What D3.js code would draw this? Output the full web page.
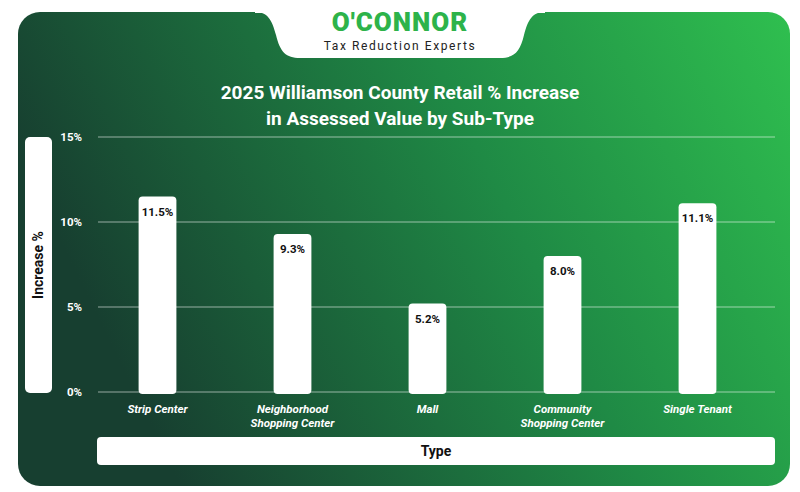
<!DOCTYPE html>
<html><head><meta charset="utf-8">
<script src="https://cdn.jsdelivr.net/npm/d3@7"></script>
<style>body{margin:0;background:#fff}svg{display:block;font-family:Roboto,"Open Sans",sans-serif}</style>
</head><body><svg id="c" width="800" height="492"></svg>
<script>
var categories = [["Strip Center"], ["Neighborhood", "Shopping Center"], ["Mall"], ["Community", "Shopping Center"], ["Single Tenant"]];
var values = [11.5, 9.3, 5.2, 8.0, 11.1];
var yTicks = [0, 5, 10, 15];

var svg = d3.select("#c");
var defs = svg.append("defs");
var g = defs.append("linearGradient").attr("id", "bg").attr("x1", "0").attr("y1", "0.3").attr("x2", "1").attr("y2", "0");
g.append("stop").attr("offset", "0").attr("stop-color", "#173f30");
g.append("stop").attr("offset", "0.55").attr("stop-color", "#1f8a45");
g.append("stop").attr("offset", "1").attr("stop-color", "#2fbf4f");

svg.append("rect").attr("x", 18).attr("y", 12).attr("width", 772).attr("height", 474).attr("rx", 22).attr("fill", "url(#bg)");

// logo tab
svg.append("path").attr("d", "M255,12 C268,12 272,20 276,35 C280,52 286,58 300,58 L500,58 C514,58 520,52 524,35 C528,20 532,12 545,12 Z").attr("fill", "#fff");
svg.append("rect").attr("x", 255).attr("y", 0).attr("width", 290).attr("height", 13).attr("fill", "#fff");
svg.append("text").attr("x", 400).attr("y", 31).attr("text-anchor", "middle").attr("font-size", 26).attr("font-weight", 900)
  .attr("fill", "#2db34a").attr("letter-spacing", 1).text("O'CONNOR");
svg.append("text").attr("x", 400).attr("y", 50).attr("text-anchor", "middle").attr("font-size", 12)
  .attr("fill", "#222").attr("letter-spacing", 1.6).text("Tax Reduction Experts");

svg.append("text").attr("x", 400).attr("y", 99).attr("text-anchor", "middle").attr("font-size", 19).attr("font-weight", 700).attr("fill", "#fff").text("2025 Williamson County Retail % Increase");
svg.append("text").attr("x", 400).attr("y", 125).attr("text-anchor", "middle").attr("font-size", 19).attr("font-weight", 700).attr("fill", "#fff").text("in Assessed Value by Sub-Type");

var x = d3.scaleBand().domain(d3.range(values.length)).range([90, 765]).paddingInner(0.72).paddingOuter(0.36);
var y = d3.scaleLinear().domain([0, 15]).range([392, 137]);

svg.append("g").selectAll("line").data(yTicks).join("line")
  .attr("x1", 98).attr("x2", 775).attr("y1", d => y(d)).attr("y2", d => y(d))
  .attr("stroke", "rgba(255,255,255,0.55)").attr("stroke-width", 1);
svg.append("g").selectAll("text").data(yTicks).join("text")
  .attr("x", 82).attr("y", d => y(d) + 4).attr("text-anchor", "end").attr("font-size", 11.5).attr("font-weight", 700)
  .attr("fill", "#fff").text(d => d + "%");

svg.append("rect").attr("x", 25).attr("y", 137).attr("width", 27).attr("height", 256).attr("rx", 5).attr("fill", "#fff");
svg.append("text").attr("transform", "translate(43,265) rotate(-90)").attr("text-anchor", "middle").attr("font-size", 14).attr("font-weight", 700).attr("fill", "#111").text("Increase %");

svg.append("g").selectAll("rect").data(values).join("rect")
  .attr("x", (d, i) => x(i)).attr("width", x.bandwidth()).attr("y", d => y(d)).attr("height", d => y(0) - y(d) + 2)
  .attr("rx", 4).attr("fill", "#fff");
svg.append("g").selectAll("text").data(values).join("text")
  .attr("x", (d, i) => x(i) + x.bandwidth() / 2).attr("y", d => y(d) + 19).attr("text-anchor", "middle")
  .attr("font-size", 11.5).attr("font-weight", 700).attr("fill", "#111").text(d => d.toFixed(1) + "%");

var xl = svg.append("g").selectAll("text").data(categories).join("text")
  .attr("x", (d, i) => x(i) + x.bandwidth() / 2).attr("y", 413).attr("text-anchor", "middle")
  .attr("font-size", 11.5).attr("font-weight", 700).attr("font-style", "italic").attr("fill", "#fff");
xl.selectAll("tspan").data(d => d).join("tspan").attr("x", function () { return this.parentNode.getAttribute("x"); })
  .attr("dy", (d, j) => j ? 14 : 0).text(d => d);

svg.append("rect").attr("x", 97).attr("y", 437).attr("width", 678).attr("height", 28).attr("rx", 4).attr("fill", "#fff");
svg.append("text").attr("x", 436).attr("y", 456).attr("text-anchor", "middle").attr("font-size", 14).attr("font-weight", 700).attr("fill", "#111").text("Type");
</script></body></html>
